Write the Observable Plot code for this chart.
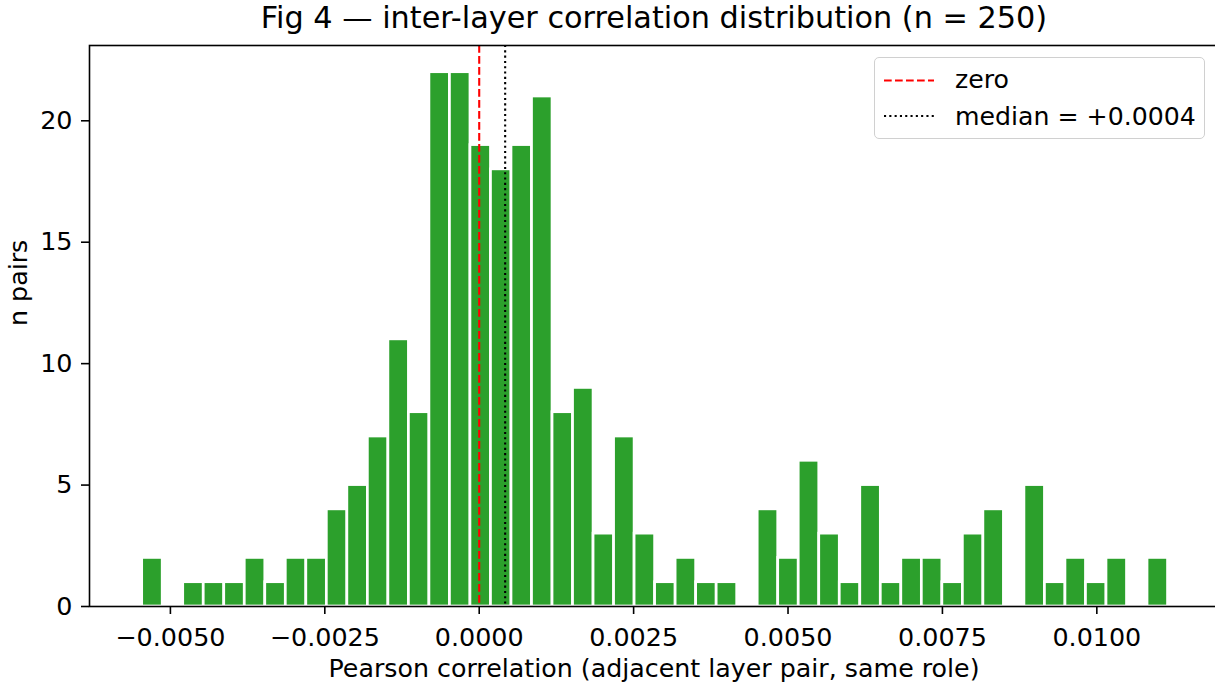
<!DOCTYPE html>
<html>
<head>
<meta charset="utf-8">
<script src="https://cdn.jsdelivr.net/npm/d3@7"></script>
<script src="https://cdn.jsdelivr.net/npm/@observablehq/plot@0.6"></script>
<style>
  html, body { margin: 0; padding: 0; background: white; }
  #wrap { position: relative; width: 1215px; height: 684px; overflow: hidden; font-family: "DejaVu Sans", sans-serif; }
  #legend { position: absolute; left: 874px; top: 57px; width: 331px; height: 82px;
            border: 1.2px solid #d0d0d0; border-radius: 5px; background: rgba(255,255,255,0.85); box-sizing: border-box; }
  #legend svg { position: absolute; left: 0; top: 0; }
</style>
</head>
<body>
<div id="wrap"></div>
<script>
// ---- data ----
const counts = [2,0,1,1,1,2,1,2,2,4, 5,7,11,8,22,22,19,18,19,21, 8,9,3,7,3,1,2,1,1,0, 4,2,6,3,1,5,1,2,2,1, 3,4,0,5,1,2,1,2,0,2];
const dataMin = -0.005457;
const dataMax = 0.011153;
const zeroValue = 0;
const medianValue = 0.00042;
const xTicks = [-0.005, -0.0025, 0, 0.0025, 0.005, 0.0075, 0.01];
const yTicks = [0, 5, 10, 15, 20];
const titleText = "Fig 4 \u2014 inter-layer correlation distribution (n = 250)";
const xLabel = "Pearson correlation (adjacent layer pair, same role)";
const yLabel = "n pairs";
const legendLabels = ["zero", "median = +0.0004"];

// histogram bins (equal width between min and max)
const nBins = counts.length;
const bw = (dataMax - dataMin) / nBins;
const bins = counts.map((c, i) => ({x1: dataMin + i * bw, x2: dataMin + (i + 1) * bw, count: c}))
                   .filter(d => d.count > 0);

const fmt = d3.format(".4f");

const chart = Plot.plot({
  width: 1215,
  height: 684,
  marginLeft: 89,
  marginRight: -3,
  marginTop: 45,
  marginBottom: 78,
  style: {fontFamily: "DejaVu Sans, sans-serif", fontSize: "25px", color: "black", background: "white", overflow: "visible"},
  x: {domain: [-0.00631, 0.01197]},
  y: {domain: [0, 23.1]},
  marks: [
    Plot.rectY(bins, {x1: "x1", x2: "x2", y: "count", fill: "#2ca02c", stroke: "white", strokeWidth: 2.7}),
    Plot.ruleX([zeroValue], {stroke: "red", strokeWidth: 2.1, strokeDasharray: "7.7,3.3"}),
    Plot.ruleX([medianValue], {stroke: "black", strokeWidth: 2.1, strokeDasharray: "2.1,3.2"}),
    Plot.frame({stroke: "black", strokeWidth: 1.6}),
    Plot.axisX({ticks: xTicks, tickFormat: fmt, tickSize: 8, tickPadding: 13, strokeWidth: 1.6, fontSize: 25.4, label: null}),
    Plot.axisY({ticks: yTicks, tickFormat: d3.format("d"), tickSize: 8, tickPadding: 9, strokeWidth: 1.6, fontSize: 25.4, label: null}),
    Plot.text([titleText], {frameAnchor: "top", dy: -18, lineAnchor: "bottom", fontSize: 30.3, text: d => d, fill: "black"}),
    Plot.text([xLabel], {frameAnchor: "bottom", dy: 70, lineAnchor: "bottom", fontSize: 25.3, text: d => d, fill: "black"}),
    Plot.text([yLabel], {frameAnchor: "left", dx: -63, rotate: -90, lineAnchor: "bottom", fontSize: 25.3, text: d => d, fill: "black"})
  ]
});

const wrap = document.getElementById("wrap");
wrap.appendChild(chart);

// legend
const legend = document.createElement("div");
legend.id = "legend";
legend.innerHTML = `
<svg width="331" height="82" xmlns="http://www.w3.org/2000/svg" font-family="DejaVu Sans, sans-serif" font-size="25.2">
  <line x1="9" x2="59" y1="22.5" y2="22.5" stroke="red" stroke-width="2.1" stroke-dasharray="7.7,3.3"/>
  <text x="80" y="30" fill="black">${legendLabels[0]}</text>
  <line x1="9" x2="59" y1="58" y2="58" stroke="black" stroke-width="2.1" stroke-dasharray="2.1,3.2"/>
  <text x="80" y="67" fill="black">${legendLabels[1]}</text>
</svg>`;
wrap.appendChild(legend);
</script>
</body>
</html>
